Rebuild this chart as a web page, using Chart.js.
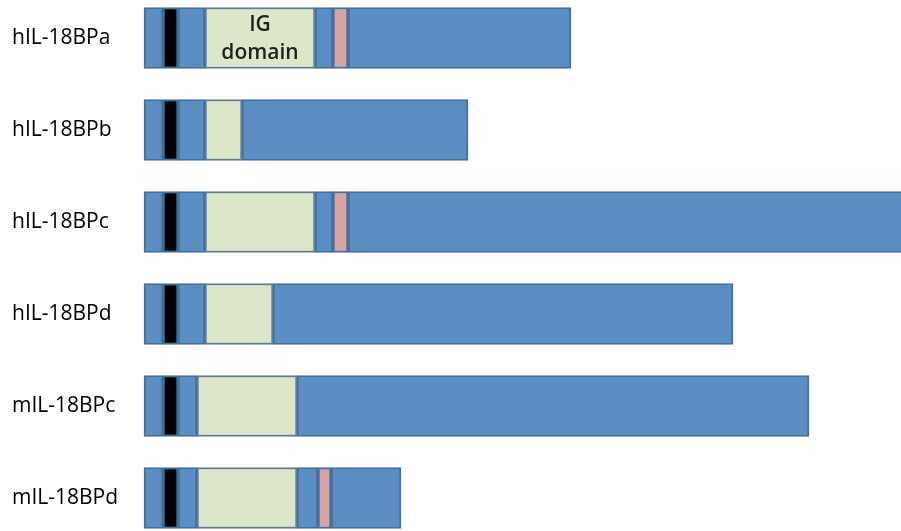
<!DOCTYPE html>
<html>
<head>
<meta charset="utf-8">
<script src="https://cdn.jsdelivr.net/npm/chart.js@4/dist/chart.umd.min.js"></script>
<style>
  body { margin: 0; background: #ffffff; }
  canvas { display: block; }
</style>
</head>
<body>
<canvas id="domainChart" width="901" height="531"></canvas>
<script>
// Protein names (one row each)
var proteins = ['hIL-18BPa', 'hIL-18BPb', 'hIL-18BPc', 'hIL-18BPd', 'mIL-18BPc', 'mIL-18BPd'];

// Segment positions along each protein (same arbitrary length unit for all rows)
var proteinEnd = [427, 324, 800, 589, 665, 257];
var signalPeptide = [[19, 34], [19, 34], [19, 34], [19, 34], [19, 34], [19, 34]];
var igDomain = [[61, 171], [61, 98], [61, 171], [61, 129], [53, 153], [53, 153]];
var pinkMotif = [[189, 204], null, [189, 204], null, null, [174, 187]];

var igLabel = ['IG', 'domain'];

// Build the blue linker pieces that fill the gaps between the domains
var blue1 = [], blue2 = [], blue3 = [], blue4 = [];
for (var i = 0; i < proteins.length; i++) {
  blue1.push([0, signalPeptide[i][0]]);
  blue2.push([signalPeptide[i][1], igDomain[i][0]]);
  if (pinkMotif[i]) {
    blue3.push([igDomain[i][1], pinkMotif[i][0]]);
    blue4.push([pinkMotif[i][1], proteinEnd[i]]);
  } else {
    blue3.push([igDomain[i][1], proteinEnd[i]]);
    blue4.push(null);
  }
}

var edge = '#41709F';

function segment(label, data, fill, border) {
  return {
    label: label,
    data: data,
    backgroundColor: fill,
    borderColor: border,
    borderWidth: 2,
    borderSkipped: false,
    barThickness: 61,
    grouped: false,
    clip: false
  };
}

// Draws the "IG domain" text inside the first IG box
var igTextPlugin = {
  id: 'igText',
  afterDatasetsDraw: function(chart) {
    var meta = chart.getDatasetMeta(3);
    var box = meta.data[0];
    var ctx = chart.ctx;
    var cx = (box.x + box.base) / 2;
    ctx.save();
    ctx.font = '600 21px "Open Sans"';
    ctx.textAlign = 'center';
    ctx.textBaseline = 'middle';
    ctx.fillStyle = '#1f1f1f';
    ctx.fillText(igLabel[0], cx, box.y - 13);
    ctx.fillText(igLabel[1], cx, box.y + 15);
    ctx.restore();
  }
};

var ctx = document.getElementById('domainChart').getContext('2d');
var chart = new Chart(ctx, {
  type: 'bar',
  data: {
    labels: proteins,
    datasets: [
      segment('N-term', blue1, '#5B8EC2', edge),
      segment('Signal', signalPeptide, '#000000', edge),
      segment('Linker', blue2, '#5B8EC2', edge),
      segment('IG domain', igDomain, '#DCE6C8', '#5F7F99'),
      segment('Linker 2', blue3, '#5B8EC2', edge),
      segment('Motif', pinkMotif, '#D9A3A1', edge),
      segment('C-term', blue4, '#5B8EC2', edge)
    ]
  },
  options: {
    indexAxis: 'y',
    responsive: false,
    animation: false,
    layout: { padding: { left: 12, right: 0, top: 38, bottom: 33 } },
    plugins: {
      legend: { display: false },
      tooltip: { enabled: false }
    },
    scales: {
      x: {
        display: false,
        min: 0,
        max: 757
      },
      y: {
        offset: false,
        grid: { display: false },
        border: { display: false },
        ticks: {
          crossAlign: 'far',
          padding: 0,
          color: '#000000',
          font: { family: 'Open Sans', size: 21 }
        },
        afterFit: function(scale) { scale.width = 132; }
      }
    }
  },
  plugins: [igTextPlugin]
});
</script>
</body>
</html>
